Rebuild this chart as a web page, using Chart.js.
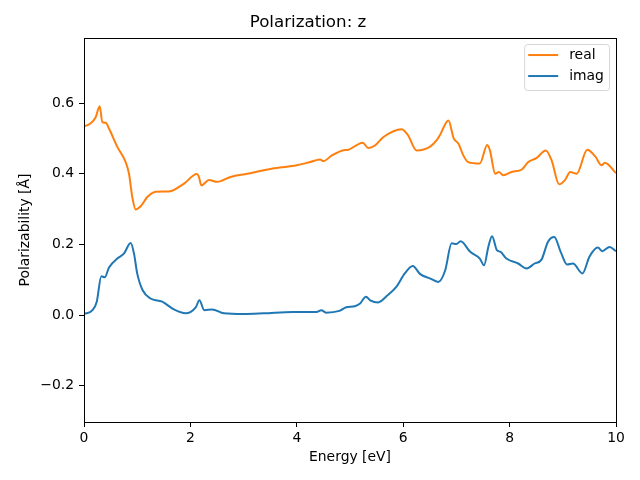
<!doctype html>
<html lang="en">
    <head>
        <meta charset="UTF-8" />
        <title>Polarization: z</title>
        <style>
            body { margin: 0; background: #fff; }
            .chartBox { width: 640px; height: 480px; }
        </style>
    </head>
    <body>
        <div class="chartBox">
            <canvas id="myChart" width="640" height="480"></canvas>
        </div>

        <script src="https://cdn.jsdelivr.net/npm/chart.js"></script>
        <script>
            // data
            const realE = [0, 0.12, 0.22, 0.295, 0.345, 0.41, 0.47, 0.626, 0.783, 0.846, 0.908, 0.97, 1.065, 1.19, 1.35, 1.6, 1.88, 2.12, 2.16, 2.205, 2.35, 2.506, 2.757, 3.07, 3.38, 3.62, 4.0, 4.25, 4.44, 4.5, 4.66, 4.86, 4.97, 5.24, 5.34, 5.47, 5.63, 5.97, 6.09, 6.25, 6.5, 6.63, 6.69, 6.85, 6.95, 7.04, 7.13, 7.22, 7.44, 7.58, 7.63, 7.73, 7.8, 7.88, 8.04, 8.23, 8.35, 8.51, 8.68, 8.79, 8.93, 9.04, 9.14, 9.26, 9.46, 9.61, 9.73, 9.79, 10.0];
            const realV = [0.534, 0.542, 0.56, 0.591, 0.546, 0.544, 0.528, 0.476, 0.433, 0.40, 0.334, 0.299, 0.308, 0.334, 0.349, 0.35, 0.372, 0.399, 0.391, 0.367, 0.382, 0.377, 0.391, 0.40, 0.41, 0.416, 0.424, 0.433, 0.44, 0.436, 0.452, 0.466, 0.468, 0.488, 0.473, 0.48, 0.504, 0.526, 0.509, 0.466, 0.476, 0.495, 0.509, 0.551, 0.50, 0.485, 0.452, 0.433, 0.429, 0.481, 0.466, 0.40, 0.405, 0.396, 0.405, 0.412, 0.433, 0.445, 0.466, 0.438, 0.37, 0.382, 0.405, 0.40, 0.468, 0.449, 0.424, 0.431, 0.402];

            const imagE = [0, 0.16, 0.24, 0.326, 0.39, 0.47, 0.626, 0.75, 0.877, 0.94, 1.0, 1.1, 1.25, 1.47, 1.69, 1.91, 2.1, 2.17, 2.26, 2.41, 2.63, 3.0, 3.38, 3.93, 4.37, 4.46, 4.55, 4.8, 4.93, 5.09, 5.19, 5.3, 5.38, 5.53, 5.69, 5.87, 6.03, 6.18, 6.32, 6.5, 6.66, 6.79, 6.91, 7.0, 7.08, 7.26, 7.44, 7.52, 7.6, 7.67, 7.76, 7.83, 7.94, 8.16, 8.32, 8.47, 8.6, 8.72, 8.84, 8.96, 9.08, 9.19, 9.37, 9.5, 9.66, 9.74, 9.88, 10.0];
            const imagV = [0.003, 0.014, 0.038, 0.11, 0.107, 0.135, 0.16, 0.174, 0.204, 0.174, 0.118, 0.071, 0.047, 0.038, 0.016, 0.005, 0.022, 0.042, 0.014, 0.016, 0.005, 0.003, 0.005, 0.009, 0.009, 0.014, 0.007, 0.012, 0.022, 0.025, 0.033, 0.052, 0.042, 0.036, 0.054, 0.08, 0.118, 0.139, 0.116, 0.104, 0.094, 0.127, 0.203, 0.201, 0.209, 0.179, 0.16, 0.141, 0.193, 0.223, 0.184, 0.179, 0.16, 0.146, 0.132, 0.146, 0.157, 0.207, 0.221, 0.179, 0.143, 0.146, 0.118, 0.165, 0.191, 0.181, 0.193, 0.181];

            const xTicks = [0, 2, 4, 6, 8, 10];
            const yTicks = [-0.2, 0, 0.2, 0.4, 0.6];

            const FONT = "'DejaVu Sans', sans-serif";
            const pts = (xs, ys) => xs.map((x, i) => ({ x: x, y: ys[i] }));

            // frame round the plot area, like matplotlib spines
            const frame = {
                id: "frame",
                afterDatasetsDraw(chart) {
                    const { ctx, chartArea: { left, top, right, bottom } } = chart;
                    ctx.save();
                    ctx.strokeStyle = "#000";
                    ctx.lineWidth = 1;
                    ctx.strokeRect(Math.round(left) + 0.5, Math.round(top) + 0.5, Math.round(right - left), Math.round(bottom - top));
                    ctx.restore();
                },
            };

            // boxed legend inside the upper right corner
            const boxLegend = {
                id: "boxLegend",
                afterDraw(chart) {
                    const { ctx, chartArea: { right, top } } = chart;
                    const sets = chart.data.datasets;
                    ctx.save();
                    ctx.font = "13.9px " + FONT;
                    const textW = Math.max(...sets.map((d) => ctx.measureText(d.label).width));
                    const w = 5.6 + 27.8 + 11.1 + textW + 5.6;
                    const h = 46;
                    const x0 = right - 7 - w;
                    const y0 = top + 6;
                    ctx.beginPath();
                    ctx.roundRect(x0 + 0.5, y0 + 0.5, w, h, 3);
                    ctx.fillStyle = "rgba(255,255,255,0.8)";
                    ctx.fill();
                    ctx.strokeStyle = "#d6d6d6";
                    ctx.lineWidth = 1;
                    ctx.stroke();
                    sets.forEach((d, i) => {
                        const yy = y0 + 11 + i * 21;
                        ctx.beginPath();
                        ctx.moveTo(x0 + 4, yy);
                        ctx.lineTo(x0 + 4 + 30, yy);
                        ctx.strokeStyle = d.borderColor;
                        ctx.lineWidth = 2;
                        ctx.stroke();
                        ctx.fillStyle = "#000";
                        ctx.textBaseline = "middle";
                        ctx.fillText(d.label, x0 + 45, yy);
                    });
                    ctx.restore();
                },
            };

            const config = {
                type: "line",
                data: {
                    datasets: [
                        {
                            label: "real",
                            data: pts(realE, realV),
                            borderColor: "#ff7f0e",
                            backgroundColor: "#ff7f0e",
                            borderWidth: 2,
                            pointRadius: 0,
                            cubicInterpolationMode: "monotone",
                        },
                        {
                            label: "imag",
                            data: pts(imagE, imagV),
                            borderColor: "#1f77b4",
                            backgroundColor: "#1f77b4",
                            borderWidth: 2,
                            pointRadius: 0,
                            cubicInterpolationMode: "monotone",
                        },
                    ],
                },
                options: {
                    responsive: false,
                    animation: false,
                    layout: { padding: { left: 0, right: 24, top: 0, bottom: 0 } },
                    plugins: {
                        legend: { display: false },
                        tooltip: { enabled: false },
                        title: {
                            display: true,
                            text: "Polarization: z",
                            color: "#000",
                            font: { family: FONT, size: 16.7, weight: "normal" },
                            padding: { top: 13, bottom: 5 },
                        },
                    },
                    scales: {
                        x: {
                            type: "linear",
                            min: 0,
                            max: 10,
                            afterFit: (s) => { s.height = 58; },
                            afterBuildTicks: (s) => { s.ticks = xTicks.map((v) => ({ value: v })); },
                            grid: { drawOnChartArea: false, drawTicks: true, tickLength: 5, color: "#000" },
                            border: { display: true, color: "#000" },
                            ticks: {
                                color: "#000",
                                padding: 3,
                                maxRotation: 0,
                                font: { family: FONT, size: 13.9 },
                                callback: (v) => String(v),
                            },
                            title: {
                                display: true,
                                text: "Energy [eV]",
                                color: "#000",
                                font: { family: FONT, size: 13.9 },
                                padding: 14.6,
                            },
                        },
                        y: {
                            type: "linear",
                            min: -0.3025,
                            max: 0.784,
                            afterFit: (s) => { s.width = 84; },
                            afterBuildTicks: (s) => { s.ticks = yTicks.map((v) => ({ value: v })); },
                            grid: { drawOnChartArea: false, drawTicks: true, tickLength: 5, color: "#000" },
                            border: { display: true, color: "#000" },
                            ticks: {
                                color: "#000",
                                padding: 5,
                                font: { family: FONT, size: 13.9 },
                                callback: (v) => v.toFixed(1).replace("-", "\u2212"),
                            },
                            title: {
                                display: true,
                                text: "Polarizability [Å]",
                                color: "#000",
                                font: { family: FONT, size: 13.9 },
                                padding: 16.6,
                            },
                        },
                    },
                },
                plugins: [frame, boxLegend],
            };

            var ctx = document.getElementById("myChart").getContext("2d");
            new Chart(ctx, config);
        </script>
    </body>
</html>
